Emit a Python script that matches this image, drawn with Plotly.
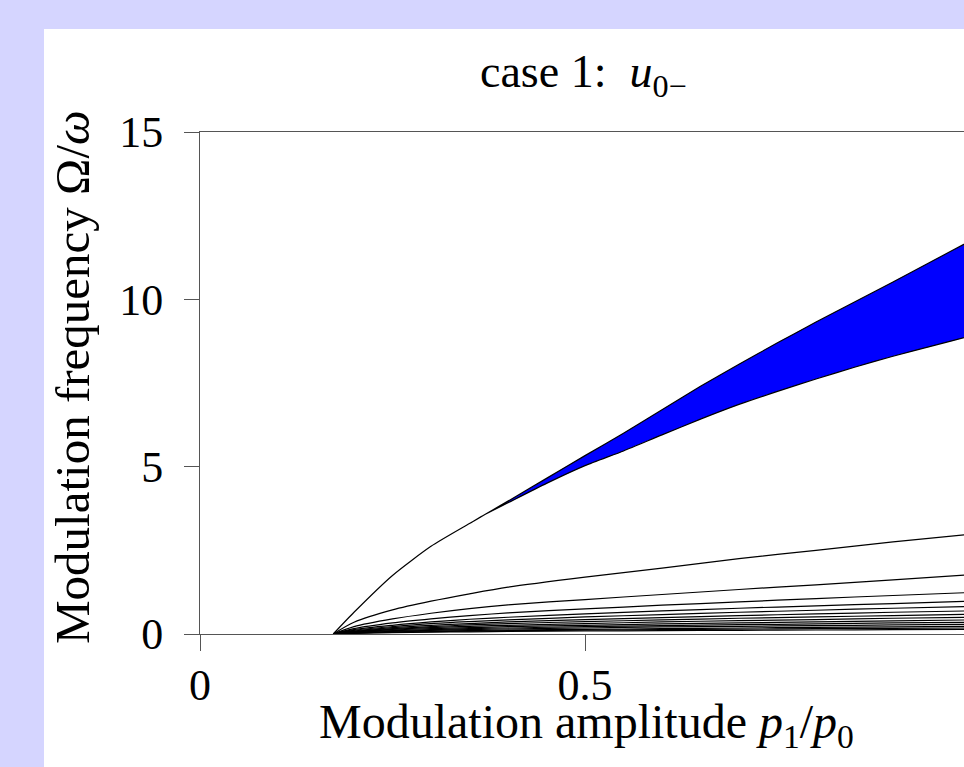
import plotly.graph_objects as go

# ---- data ----
band_x = [0.173, 0.2, 0.25, 0.3, 0.35, 0.37, 0.4, 0.45, 0.5, 0.55, 0.6, 0.65,
          0.7, 0.75, 0.8, 0.85, 0.9, 0.95, 1.0, 1.05]
band_upper = [0.0, 0.65, 1.75, 2.62, 3.3, 3.57, 3.97, 4.65, 5.33, 6.0, 6.7, 7.4,
              8.06, 8.7, 9.32, 9.92, 10.52, 11.13, 11.74, 12.34]
band_lower = [0.0, 0.65, 1.75, 2.62, 3.3, 3.57, 3.92, 4.5, 5.03, 5.47, 5.95, 6.42,
              6.86, 7.25, 7.62, 7.97, 8.3, 8.6, 8.9, 9.2]

low_x = [0.173, 0.2, 0.25, 0.3, 0.35, 0.4, 0.5, 0.6, 0.7, 0.8, 0.9, 1.0]
low_curves = [
    [0, 0.35, 0.72, 0.98, 1.2, 1.4, 1.7, 1.97, 2.25, 2.5, 2.75, 2.98],
    [0, 0.22, 0.45, 0.62, 0.76, 0.87, 1.03, 1.18, 1.33, 1.47, 1.62, 1.77],
    [0, 0.16, 0.33, 0.45, 0.55, 0.63, 0.75, 0.86, 0.96, 1.06, 1.15, 1.24],
    [0, 0.13, 0.26, 0.36, 0.44, 0.5, 0.6, 0.69, 0.77, 0.84, 0.91, 0.98],
    [0, 0.11, 0.22, 0.31, 0.37, 0.42, 0.51, 0.58, 0.65, 0.71, 0.77, 0.82],
    [0, 0.09, 0.19, 0.26, 0.31, 0.36, 0.43, 0.49, 0.55, 0.6, 0.65, 0.69],
    [0, 0.08, 0.16, 0.22, 0.27, 0.31, 0.37, 0.42, 0.47, 0.51, 0.55, 0.59],
    [0, 0.07, 0.14, 0.19, 0.23, 0.26, 0.31, 0.36, 0.4, 0.43, 0.47, 0.5],
    [0, 0.06, 0.12, 0.16, 0.19, 0.22, 0.26, 0.3, 0.33, 0.36, 0.39, 0.42],
    [0, 0.05, 0.1, 0.13, 0.16, 0.18, 0.22, 0.25, 0.28, 0.3, 0.33, 0.35],
    [0, 0.04, 0.08, 0.11, 0.13, 0.15, 0.18, 0.21, 0.23, 0.25, 0.27, 0.29],
    [0, 0.03, 0.06, 0.09, 0.1, 0.12, 0.14, 0.16, 0.18, 0.2, 0.21, 0.23],
    [0, 0.025, 0.05, 0.07, 0.085, 0.1, 0.115, 0.13, 0.145, 0.16, 0.17, 0.18],
    [0, 0.02, 0.04, 0.055, 0.065, 0.075, 0.09, 0.1, 0.11, 0.12, 0.13, 0.14],
]

x_tickvals = [0, 0.5]
x_ticktext = ["0", "0.5"]
y_tickvals = [0, 5, 10, 15]
y_ticktext = ["0", "5", "10", "15"]

title_text = "case 1:  <i>u</i><sub>0−</sub>"
x_title = "Modulation amplitude <i>p</i><sub>1</sub>/<i>p</i><sub>0</sub>"
y_title = "Modulation frequency Ω/<i>ω</i>"

FONT = "Liberation Serif"
W, H = 964, 767
L, R, T, B = 200, 0, 132, 133
pw = W - L - R
ph = H - T - B
BG = "rgb(213,213,255)"


def px_to_paper_x(px):
    return (px - L) / pw


def px_to_paper_y(py):
    return (H - B - py) / ph


fig = go.Figure()

# low-frequency family of curves
for cv in low_curves:
    fig.add_trace(go.Scatter(
        x=low_x, y=cv, mode="lines",
        line=dict(color="black", width=1.2, shape="spline", smoothing=0.8),
        hoverinfo="skip", showlegend=False))

# blue instability band
fig.add_trace(go.Scatter(
    x=band_x + band_x[::-1], y=band_upper + band_lower[::-1],
    mode="lines", fill="toself", fillcolor="#0000ff",
    line=dict(color="black", width=1.2, shape="spline", smoothing=0.6),
    hoverinfo="skip", showlegend=False))

fig.update_layout(
    width=W, height=H,
    margin=dict(l=L, r=R, t=T, b=B, pad=0),
    paper_bgcolor=BG,
    plot_bgcolor="white",
    showlegend=False,
    font=dict(family=FONT, size=44, color="black"),
    shapes=[dict(type="rect", xref="paper", yref="paper",
                 x0=px_to_paper_x(44), x1=1.2,
                 y0=px_to_paper_y(800), y1=px_to_paper_y(29),
                 fillcolor="white", line=dict(width=0), layer="below")],
    annotations=[
        dict(text=title_text, xref="paper", yref="paper",
             x=px_to_paper_x(583), y=px_to_paper_y(75),
             xanchor="center", yanchor="middle", showarrow=False,
             font=dict(family=FONT, size=46, color="black")),
        dict(text=x_title, xref="paper", yref="paper",
             x=px_to_paper_x(586), y=px_to_paper_y(725),
             xanchor="center", yanchor="middle", showarrow=False,
             font=dict(family=FONT, size=48, color="black")),
        dict(text=y_title, xref="paper", yref="paper",
             x=px_to_paper_x(72), y=px_to_paper_y(377),
             xanchor="center", yanchor="middle", showarrow=False,
             textangle=-90,
             font=dict(family=FONT, size=49, color="black")),
    ],
)

fig.update_xaxes(
    range=[0, (W - L) / 770.0], tickmode="array",
    tickvals=x_tickvals, ticktext=x_ticktext,
    ticks="outside", ticklen=16, tickwidth=1, tickcolor="#555",
    ticklabelstandoff=-4,
    showline=True, linecolor="#555", linewidth=1, mirror=True,
    showgrid=False, zeroline=False,
    tickfont=dict(family=FONT, size=44, color="black"))
fig.update_yaxes(
    range=[0, 15], tickmode="array",
    tickvals=y_tickvals, ticktext=y_ticktext,
    ticks="outside", ticklen=15, tickwidth=1, tickcolor="#555",
    ticklabelstandoff=12,
    showline=True, linecolor="#555", linewidth=1,
    showgrid=False, zeroline=False,
    tickfont=dict(family=FONT, size=44, color="black"))

fig.write_html(
    "out.html",
    config={"displayModeBar": False},
    post_script=("document.body.style.margin='0';"
                 "document.body.style.padding='0';"
                 "document.body.style.background='" + BG + "';"))
